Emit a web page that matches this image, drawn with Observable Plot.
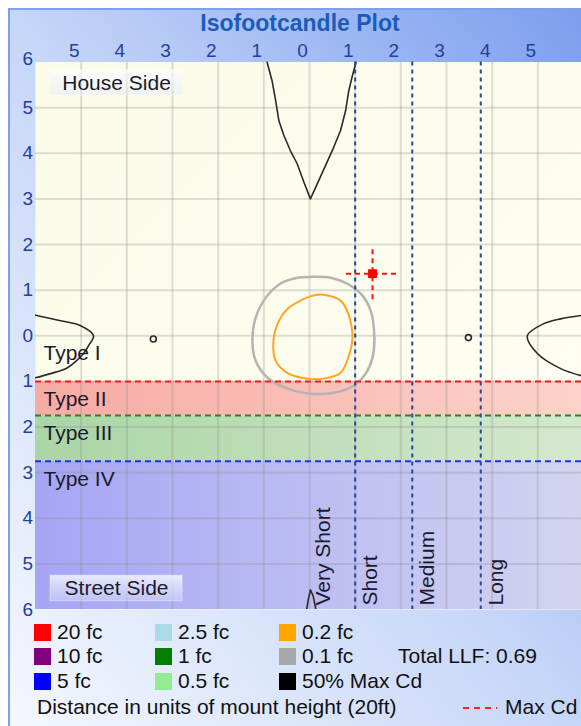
<!DOCTYPE html>
<html><head><meta charset="utf-8">
<script src="https://cdn.jsdelivr.net/npm/d3@7"></script>
<script src="https://cdn.jsdelivr.net/npm/@observablehq/plot@0.6"></script>
<style>
html,body{margin:0;padding:0;width:581px;height:726px;overflow:hidden;background:#fff;font-family:"Liberation Sans",Arial,sans-serif;}
#frame{position:absolute;left:8px;top:8px;width:573px;height:718px;border-left:2px solid #7e9ff0;border-top:2px solid #7e9ff0;box-sizing:border-box;background:linear-gradient(to bottom left,#7c9eee 0%,#c6d6f8 50%,#f4f7fe 100%);}
#title{position:absolute;left:0;top:8px;width:600px;text-align:center;font-weight:bold;font-size:23px;color:#1c5cb8;line-height:30px;}
#chart{position:absolute;left:0;top:36px;}
.leg{position:absolute;font-size:21px;color:#111;line-height:24px;white-space:nowrap;}
.sw{position:absolute;width:17px;height:17px;}
</style>
</head><body>
<div id="frame"></div>
<div id="title">Isofootcandle Plot</div>
<div id="chart"></div>
<div id="legend"></div>
<script>
// ---- data ----
const plotExtent = [-6, 6];
const xGrid = [-5,-4,-3,-2,-1,0,1,2,3,4,5];
const yGrid = [-5,-4,-3,-2,-1,0,1,2,3,4,5];
const xTickValues = [-5,-4,-3,-2,-1,0,1,2,3,4,5];
const yTickValues = [-6,-5,-4,-3,-2,-1,0,1,2,3,4,5];
const yTopTick = [6];

const zoneNames = ["Type I","Type II","Type III","Type IV"];
const zoneTop = [0, -1, -1.75, -2.75];
const zoneBottom = [-1, -1.75, -2.75, -6];
const zoneLineColors = ["#ee2020","#208a20","#2030ee"];

const throwNames = ["Very Short","Short","Medium","Long"];
const throwLabelX = [0.31, 1.34, 2.58, 4.1];
const throwLines = [1.0, 2.25, 3.75];

const sideNames = ["House Side","Street Side"];
const sideY = [5.54, -5.54];
const sideBoxX = [-5.67, -2.78];

const contour01 = [[0.02,1.29],[0.46,1.27],[0.83,1.14],[1.16,0.88],[1.34,0.55],[1.42,-0.04],[1.38,-0.48],[1.23,-0.83],[0.96,-1.10],[0.53,-1.25],[0.02,-1.27],[-0.48,-1.16],[-0.92,-0.92],[-1.18,-0.55],[-1.25,-0.11],[-1.18,0.39],[-0.96,0.83],[-0.64,1.14],[-0.26,1.27]];
const contour02 = [[0.07,0.88],[0.31,0.90],[0.68,0.77],[0.85,0.48],[0.94,-0.04],[0.85,-0.48],[0.68,-0.81],[0.31,-0.94],[-0.04,-0.94],[-0.46,-0.83],[-0.74,-0.55],[-0.79,-0.11],[-0.70,0.26],[-0.48,0.59],[-0.20,0.77]];
const halfMaxTop = [[-0.93,6.0],[-0.82,5.59],[-0.74,5.15],[-0.67,4.71],[-0.56,4.39],[-0.42,4.06],[-0.27,3.77],[-0.12,3.36],[0.02,3.0],[0.17,3.33],[0.35,3.73],[0.53,4.13],[0.68,4.5],[0.79,4.93],[0.86,5.37],[0.93,5.66],[1.02,6.0]];
const halfMaxLeft = [[-6.0,0.45],[-5.45,0.33],[-5.01,0.22],[-4.73,0.0],[-4.84,-0.22],[-4.95,-0.39],[-5.30,-0.70],[-5.67,-0.83],[-6.0,-0.92]];
const halfMaxRight = [[6.0,0.45],[5.5,0.37],[5.12,0.26],[4.77,0.0],[4.99,-0.39],[5.5,-0.72],[6.0,-0.89]];
const halfMaxBottom = [[-0.07,-6.05],[-0.03,-5.8],[0.02,-5.57],[0.08,-5.7],[0.15,-6.05]];
const smallLoopX = [-3.42, 3.48];
const smallLoopY = [-0.07, -0.04];

const maxCdPoint = [1.38, 1.36];
const crossHalf = 0.57;

const legendLabels = ["20 fc","10 fc","5 fc","2.5 fc","1 fc","0.5 fc","0.2 fc","0.1 fc","50% Max Cd"];
const legendColors = ["#ff0000","#800080","#0000ff","#add8e6","#008000","#90ee90","#ffa500","#a9a9a9","#000000"];
const totalLLF = "0.69";
const caption = "Distance in units of mount height (20ft)";

// ---- chart ----
const xy = {x: d => d[0], y: d => d[1]};
const chart = Plot.plot({
  width: 581, height: 585,
  marginLeft: 35, marginRight: 0, marginTop: 25.5, marginBottom: 12,
  x: {domain: plotExtent, range: [35, 583], axis: null},
  y: {domain: plotExtent, range: [573, 25.5], axis: null},
  style: {background: "transparent", fontFamily: "Liberation Sans, Arial, sans-serif", overflow: "visible"},
  marks: [
    Plot.frame({fill: "url(#gIvory)", stroke: "none"}),
    ...[1,2,3].map(k => Plot.rect([k], {
      x1: () => plotExtent[0], x2: () => plotExtent[1],
      y1: i => zoneTop[i], y2: i => zoneBottom[i],
      fill: `url(#gZone${k})`
    })),
    Plot.ruleX(xGrid, {stroke: "#8c8c8c", strokeOpacity: 0.28, strokeWidth: 2}),
    Plot.ruleY(yGrid, {stroke: "#8c8c8c", strokeOpacity: 0.28, strokeWidth: 2}),
    // contours
    Plot.line(contour01, {...xy, curve: "catmull-rom-closed", stroke: "#b4b4b4", strokeWidth: 2.5}),
    Plot.line(contour02, {...xy, curve: "catmull-rom-closed", stroke: "#ffa51e", strokeWidth: 2}),
    Plot.line(halfMaxTop, {...xy, stroke: "#2a2a2a", strokeWidth: 1.6, clip: true}),
    Plot.line(halfMaxLeft, {...xy, curve: "catmull-rom", stroke: "#2a2a2a", strokeWidth: 1.6, clip: true}),
    Plot.line(halfMaxRight, {...xy, curve: "catmull-rom", stroke: "#2a2a2a", strokeWidth: 1.6, clip: true}),
    Plot.line(halfMaxBottom, {...xy, stroke: "#2a2a2a", strokeWidth: 1.6, clip: true}),
    Plot.dot(smallLoopX, {x: d => d, y: (d, i) => smallLoopY[i], r: 3, stroke: "#2a2a2a", strokeWidth: 1.6, fill: "none"}),
    // zone boundaries
    ...zoneLineColors.map((c, k) => Plot.ruleY([zoneBottom[k]], {stroke: c, strokeWidth: 2, strokeDasharray: "6,4"})),
    // throw lines
    Plot.ruleX(throwLines, {stroke: "#2446a6", strokeWidth: 2, strokeDasharray: "4,4"}),
    // side label boxes
    Plot.rect(sideNames, {
      x1: () => sideBoxX[0], x2: () => sideBoxX[1],
      y1: (d, i) => sideY[i] + 0.28, y2: (d, i) => sideY[i] - 0.28,
      fill: "url(#gBox)", stroke: "#ffffff", strokeOpacity: 0.4
    }),
    Plot.text(sideNames, {x: () => (sideBoxX[0] + sideBoxX[1]) / 2, y: (d, i) => sideY[i], text: d => d, fontSize: 21, fill: "#1b1b2b"}),
    // zone labels
    Plot.text(zoneNames, {y: (d, i) => zoneTop[i], text: d => d, frameAnchor: "left", dx: 8, dy: 18, textAnchor: "start", lineAnchor: "middle", fontSize: 21, fill: "#1a1a30"}),
    // throw labels
    Plot.text(throwNames, {x: (d, i) => throwLabelX[i], text: d => d, frameAnchor: "bottom", dy: -4, rotate: -90, textAnchor: "start", lineAnchor: "middle", fontSize: 21, fill: "#1a1a30"}),
    // max cd
    Plot.ruleY([maxCdPoint[1]], {x1: () => maxCdPoint[0] - crossHalf, x2: () => maxCdPoint[0] + crossHalf, stroke: "#ff1010", strokeWidth: 2, strokeDasharray: "5,4"}),
    Plot.ruleX([maxCdPoint[0]], {y1: () => maxCdPoint[1] - crossHalf, y2: () => maxCdPoint[1] + crossHalf, stroke: "#ff1010", strokeWidth: 2, strokeDasharray: "5,4"}),
    Plot.dot([maxCdPoint], {...xy, symbol: "square", r: 5, fill: "#ff0000"}),
    // axis labels
    Plot.text(xTickValues, {x: d => d, text: d => String(Math.abs(d)), frameAnchor: "top", lineAnchor: "middle", dy: -11.5, dx: -7, fontSize: 19, fill: "#23409a"}),
    Plot.text(yTickValues, {y: d => d, text: d => String(Math.abs(d)), frameAnchor: "left", lineAnchor: "middle", dx: -13, fontSize: 19, fill: "#23409a"}),
    Plot.text(yTopTick, {y: d => d, text: d => String(d), frameAnchor: "left", lineAnchor: "middle", dx: -13, dy: -3, fontSize: 19, fill: "#23409a"})
  ]
});
d3.select(chart).insert("defs", ":first-child").html(`
<linearGradient id="gIvory" x1="0" y1="0" x2="1" y2="1"><stop offset="0" stop-color="#fbfbe7"/><stop offset="1" stop-color="#fefef5"/></linearGradient>
<linearGradient id="gZone1" x1="0" x2="1" y1="0" y2="0"><stop offset="0" stop-color="#f8aaa4"/><stop offset="1" stop-color="#fcd3c9"/></linearGradient>
<linearGradient id="gZone2" x1="0" x2="1" y1="0" y2="0"><stop offset="0" stop-color="#aad5a5"/><stop offset="1" stop-color="#d4e8cd"/></linearGradient>
<linearGradient id="gZone3" x1="0" x2="1" y1="0" y2="0"><stop offset="0" stop-color="#a5a5f5"/><stop offset="1" stop-color="#d4d4f0"/></linearGradient>
<linearGradient id="gBox" x1="0" x2="0" y1="0" y2="1"><stop offset="0" stop-color="#ffffff" stop-opacity="0.75"/><stop offset="1" stop-color="#dfe6fa" stop-opacity="0.4"/></linearGradient>`);
document.getElementById("chart").appendChild(chart);

// ---- legend ----
const leg = document.getElementById("legend");
const colSwatchX = [34, 155, 279];
const rowCenterY = [632, 656, 681];
legendLabels.forEach((lab, i) => {
  const c = Math.floor(i / 3), r = i % 3;
  const sw = document.createElement("div");
  sw.className = "sw";
  sw.style.left = colSwatchX[c] + "px";
  sw.style.top = (rowCenterY[r] - 8.5) + "px";
  sw.style.background = legendColors[i];
  leg.appendChild(sw);
  const t = document.createElement("div");
  t.className = "leg";
  t.style.left = (colSwatchX[c] + 23) + "px";
  t.style.top = (rowCenterY[r] - 12) + "px";
  t.textContent = lab;
  leg.appendChild(t);
});
const llf = document.createElement("div");
llf.className = "leg"; llf.style.left = "398px"; llf.style.top = (rowCenterY[1] - 12) + "px";
llf.textContent = "Total LLF: " + totalLLF;
leg.appendChild(llf);
const cap = document.createElement("div");
cap.className = "leg"; cap.style.left = "37px"; cap.style.top = "695px";
cap.textContent = caption;
leg.appendChild(cap);
const mx = document.createElement("div");
mx.className = "leg"; mx.style.left = "463px"; mx.style.top = "695px";
mx.innerHTML = '<svg width="34" height="10" style="vertical-align:middle;margin-right:8px"><line x1="0" x2="34" y1="5" y2="5" stroke="#ff2020" stroke-width="2" stroke-dasharray="6,5"/></svg>Max Cd';
leg.appendChild(mx);
</script>
</body></html>
